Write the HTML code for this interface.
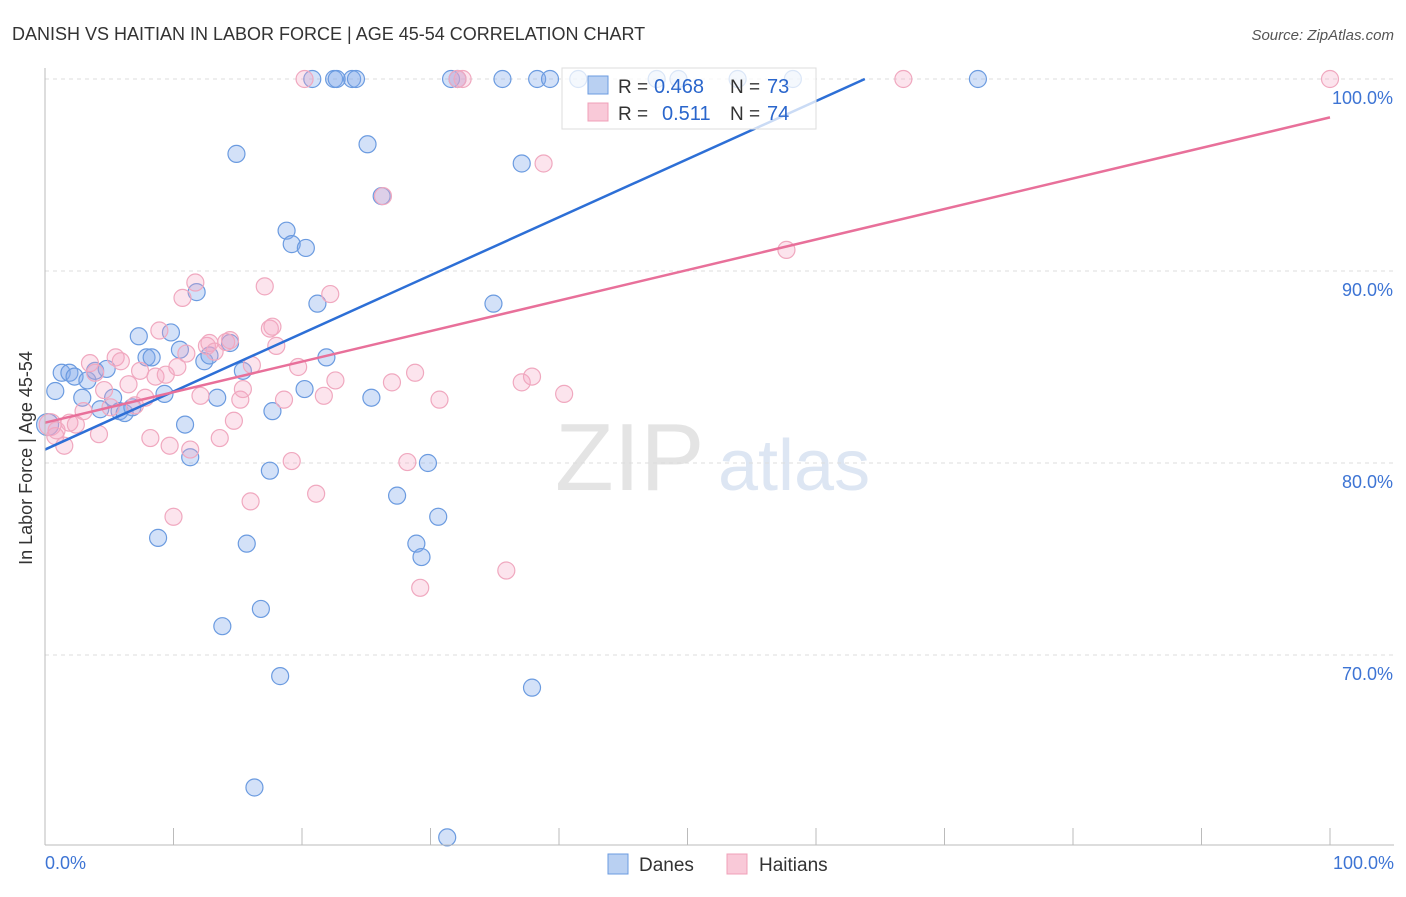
<!DOCTYPE html>
<html><head><meta charset="utf-8"><style>
body{margin:0;background:#fff;font-family:"Liberation Sans",sans-serif;}
svg text{font-family:"Liberation Sans",sans-serif;}
</style></head><body>
<svg id="c" width="1406" height="892" xmlns="http://www.w3.org/2000/svg">
<text x="12" y="40" font-size="18" fill="#333">DANISH VS HAITIAN IN LABOR FORCE | AGE 45-54 CORRELATION CHART</text>
<text x="1394" y="40" font-size="15" fill="#555" text-anchor="end" font-style="italic">Source: ZipAtlas.com</text>
<text x="32" y="458" font-size="18" fill="#333" text-anchor="middle" transform="rotate(-90 32 458)">In Labor Force | Age 45-54</text>
<text x="555" y="490" font-size="96" fill="#e4e4e4" font-family="Liberation Serif">ZIP</text>
<text x="718" y="490" font-size="72" fill="#dde6f3">atlas</text>
<g id="grid"></g><g id="pts"></g><g id="lines"></g>
<line x1="45" y1="68" x2="45" y2="845" stroke="#bbb"/>
<line x1="45" y1="845" x2="1394" y2="845" stroke="#bbb"/>
<text x="45" y="869" font-size="18" fill="#3d74d4">0.0%</text>
<text x="1394" y="869" font-size="18" fill="#3d74d4" text-anchor="end">100.0%</text>
<g>
<rect x="562" y="68" width="254" height="61" fill="#fff" fill-opacity="0.75" stroke="#ddd"/>
<rect x="588" y="76" width="20" height="18" fill="#b9d0f2" stroke="#6b9be0"/>
<rect x="588" y="103" width="20" height="18" fill="#f9c9d8" stroke="#f0a0b8"/>
<text x="618" y="93" font-size="19" fill="#333">R =</text>
<text x="654" y="93" font-size="20" fill="#2a66cc">0.468</text>
<text x="730" y="93" font-size="19" fill="#333">N =</text>
<text x="767" y="93" font-size="20" fill="#2a66cc">73</text>
<text x="618" y="120" font-size="19" fill="#333">R =</text>
<text x="662" y="120" font-size="20" fill="#2a66cc">0.511</text>
<text x="730" y="120" font-size="19" fill="#333">N =</text>
<text x="767" y="120" font-size="20" fill="#2a66cc">74</text>
</g>
<g>
<rect x="608" y="854" width="20" height="20" fill="#b9d0f2" stroke="#6b9be0"/>
<text x="639" y="871" font-size="19" fill="#333">Danes</text>
<rect x="727" y="854" width="20" height="20" fill="#f9c9d8" stroke="#f0a0b8"/>
<text x="759" y="871" font-size="19" fill="#333">Haitians</text>
</g>
</svg>
<script>
const yTicks=[100,90,80,70];
const xTicks=[0,10,20,30,40,50,60,70,80,90,100];
const danesX=[0.8,1.3,1.9,2.3,2.9,3.3,3.9,4.3,4.8,5.3,5.8,6.2,6.8,7.3,7.9,8.3,8.8,9.3,9.8,10.5,10.9,11.3,11.8,12.4,12.8,13.4,13.8,14.4,14.9,15.4,15.7,16.3,16.8,17.5,17.7,18.3,18.8,19.2,20.2,20.3,20.8,21.2,21.9,22.5,22.7,23.9,24.2,25.1,25.4,26.2,27.4,28.9,29.3,29.8,30.6,31.3,31.6,32.1,34.9,35.6,37.1,37.9,38.3,39.3,41.5,47.6,49.3,53.9,58.2,72.6,0.2];
const danesY=[83.75,84.7,84.7,84.5,83.4,84.3,84.8,82.8,84.9,83.4,82.7,82.6,82.9,86.6,85.5,85.5,76.1,83.6,86.8,85.9,82.0,80.3,88.9,85.3,85.6,83.4,71.5,86.25,96.1,84.8,75.8,63.1,72.4,79.6,82.7,68.9,92.1,91.4,83.85,91.2,100,88.3,85.5,100,100,100,100,96.6,83.4,93.9,78.3,75.8,75.1,80.0,77.2,60.5,100,100,88.3,100,95.6,68.3,100,100,100,100,100,100,100,100,82.0];
const haitX=[0.4,0.8,0.9,1.5,1.9,2.4,3.0,3.5,3.9,4.2,4.6,5.1,5.5,5.9,6.5,7.0,7.4,7.8,8.2,8.6,8.9,9.4,9.7,10.0,10.3,10.7,11.0,11.3,11.7,12.1,12.6,12.8,13.2,13.6,14.1,14.4,14.7,15.2,15.4,16.0,16.1,17.1,17.5,17.7,18.0,18.6,19.2,19.7,20.2,21.1,21.7,22.2,22.6,26.3,27.0,28.2,28.8,29.2,30.7,32.1,32.5,35.9,37.1,37.9,38.8,40.4,57.7,66.8,100];
const haitY=[82.0,81.4,81.7,80.9,82.1,82.0,82.7,85.2,84.7,81.5,83.8,82.9,85.5,85.3,84.1,83.0,84.8,83.4,81.3,84.5,86.9,84.6,80.9,77.2,85.0,88.6,85.7,80.7,89.4,83.5,86.1,86.25,85.8,81.3,86.3,86.4,82.2,83.3,83.85,78.0,85.1,89.2,87.0,87.1,86.1,83.3,80.1,85.0,100,78.4,83.5,88.8,84.3,93.9,84.2,80.05,84.7,73.5,83.3,100,100,74.4,84.2,84.5,95.6,83.6,91.1,100,100];
const danesLine=[[0,80.7],[63.8,100]];
const haitLine=[[0,82.1],[100,98.0]];
const NS='http://www.w3.org/2000/svg';
const sx=v=>45+v*12.85, sy=v=>79+(100-v)*19.2;
function mk(t,a,p){const e=document.createElementNS(NS,t);for(const k in a)e.setAttribute(k,a[k]);p.appendChild(e);return e;}
const g=document.getElementById('grid'),P=document.getElementById('pts'),L=document.getElementById('lines');
yTicks.forEach(v=>{
 const l=mk('line',{x1:45,x2:1394,y1:sy(v),y2:sy(v),stroke:'#ddd','stroke-dasharray':'4,4'},g);
 
 
 const t=mk('text',{x:1393,y:sy(v)+25,'font-size':18,fill:'#3d74d4','text-anchor':'end'},g);
 t.textContent=v.toFixed(1)+'%';
 
 
});
xTicks.forEach(v=>{
 const l=mk('line',{x1:sx(v),x2:sx(v),y1:828,y2:845,stroke:'#bbb'},g);
 
 
});
function pts(X,Y,fill,stroke,name){X.forEach((x,i)=>{
 const big=(i===X.length-1&&name==='dane-point')||(i===0&&name==='haitian-point');
 const c=mk('circle',{cx:sx(x),cy:sy(Y[i]),r:big?11:8.5,fill:fill,stroke:stroke,'stroke-width':1.2},P);
 
 
});}
pts(danesX,danesY,'rgba(130,170,235,0.35)','#6b9be0','dane-point');
pts(haitX,haitY,'rgba(245,165,195,0.3)','#f0a8bf','haitian-point');
const l1=mk('line',{x1:sx(danesLine[0][0]),y1:sy(danesLine[0][1]),x2:sx(danesLine[1][0]),y2:sy(danesLine[1][1]),stroke:'#2d6fd6','stroke-width':2.5},L);


const l2=mk('line',{x1:sx(haitLine[0][0]),y1:sy(haitLine[0][1]),x2:sx(haitLine[1][0]),y2:sy(haitLine[1][1]),stroke:'#e8709a','stroke-width':2.5},L);


</script>
</body></html>
